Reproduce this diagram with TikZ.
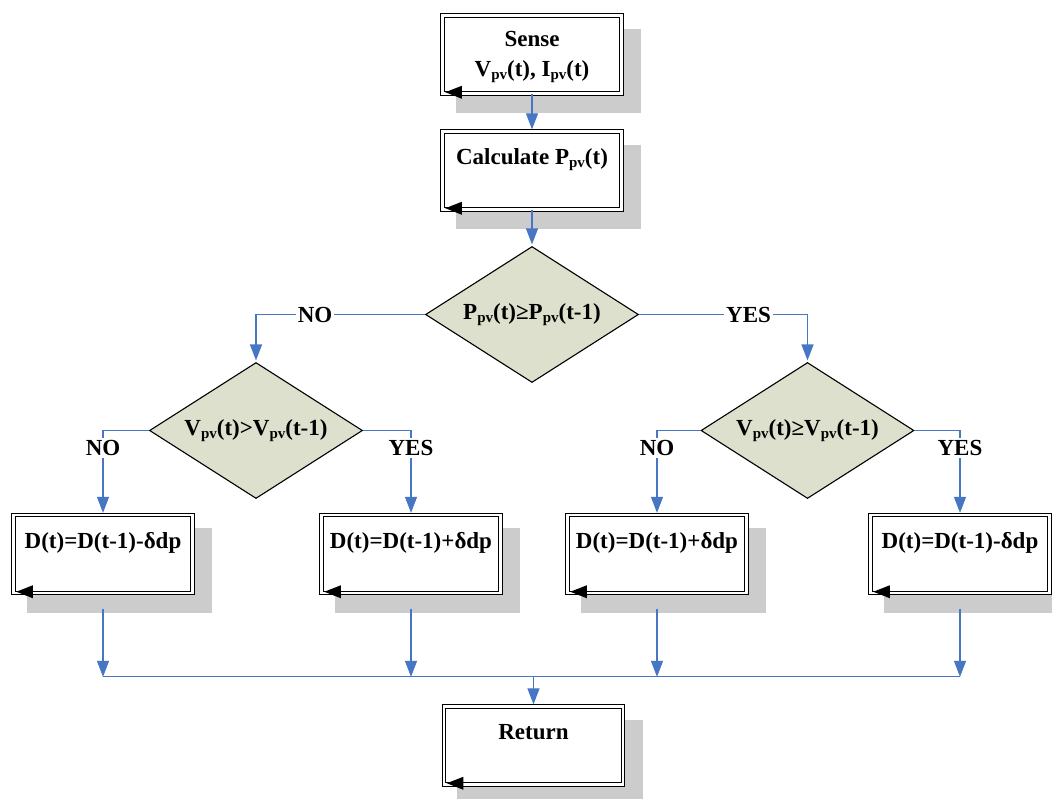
\documentclass[tikz,border=0pt]{standalone}
\usepackage{fontspec}
\setmainfont{Liberation Serif}
\usetikzlibrary{arrows.meta,shapes.geometric,calc,backgrounds}
\definecolor{lineblue}{RGB}{70,118,196}
\definecolor{shadowgray}{RGB}{204,204,204}
\definecolor{diafill}{RGB}{221,224,204}
\newcommand\pvs{\raisebox{-0.28ex}{\fontsize{15}{15}\selectfont pv}}
\begin{document}
\begin{tikzpicture}[x=1pt,y=-1pt,
  every node/.style={font=\bfseries\fontsize{23}{28}\selectfont},
  procbox/.style={rectangle, draw=black, line width=1.3pt, double=white,
    double distance=2.2pt, fill=white, minimum width=179pt,
    minimum height=78pt, inner sep=0pt},
  decision/.style={diamond, draw=black, line width=1.1pt, fill=diafill,
    shape aspect=1.57, minimum width=213pt, minimum height=136pt, inner sep=0pt},
  txt/.style={anchor=base, inner sep=0pt},
  lbl/.style={fill=white, inner sep=2pt},
  conn/.style={draw=lineblue, line width=1.2pt,
    -{Triangle[length=16pt,width=12pt]}, shorten >=1.5pt},
  plain/.style={draw=lineblue, line width=1.2pt},
  shadowbox/.style={fill=shadowgray},
  cornertip/.style={fill=black}
]
\useasboundingbox (0,0) rectangle (1052,798);

% process boxes
\node[procbox] (sense) at (532,54.5) {};
\node[procbox] (calc)  at (532,170.5) {};
\node[procbox] (boxA)  at (103,554) {};
\node[procbox] (boxB)  at (411,554) {};
\node[procbox] (boxC)  at (657,554) {};
\node[procbox] (boxD)  at (960,554) {};
\node[procbox] (ret)   at (533.5,745.5) {};

% shadows
\begin{scope}[on background layer]
\foreach \b in {sense,calc,boxA,boxB,boxC,boxD,ret}{
  \fill[shadowbox] ($(\b.north west)+(14,14)$) rectangle ($(\b.south east)+(19,19)$);
}
\end{scope}

% small black arrowheads inside boxes
\foreach \b in {sense,calc,boxA,boxB,boxC,boxD,ret}{
  \fill[cornertip] ($(\b.south west)+(3.5,-1.9)$) -- ($(\b.south west)+(20,-8.4)$)
     -- ($(\b.south west)+(20,4.6)$) -- cycle;
}

% texts in boxes
\node[txt] (sense-t1) at ($(sense.north)+(0,32)$) {Sense};
\node[txt] (sense-t2) at ($(sense.north)+(0,62)$) {V\pvs(t), I\pvs(t)};
\node[txt] (calc-t) at ($(calc.north)+(0,34)$) {Calculate P\pvs(t)};
\node[txt] (boxA-t) at ($(boxA.north)+(0,34)$) {D(t)=D(t-1)-δdp};
\node[txt] (boxB-t) at ($(boxB.north)+(0,34)$) {D(t)=D(t-1)+δdp};
\node[txt] (boxC-t) at ($(boxC.north)+(0,34)$) {D(t)=D(t-1)+δdp};
\node[txt] (boxD-t) at ($(boxD.north)+(0,34)$) {D(t)=D(t-1)-δdp};
\node[txt] (ret-t) at ($(ret.north)+(0,34)$) {Return};

% decisions
\node[decision] (d1) at (532,314.5) {P\pvs(t)≥P\pvs(t-1)};
\node[decision] (d2) at (256,430.5) {V\pvs(t)>V\pvs(t-1)};
\node[decision] (d3) at (807.5,430.5) {V\pvs(t)≥V\pvs(t-1)};

% connectors
\draw[conn] (sense.south) -- (calc.north);
\draw[conn] (calc.south) -- (d1.north);

\coordinate (c1) at (d2.north |- d1.west);
\coordinate (c2) at (d3.north |- d1.west);
\draw[conn] (d1.west) -- node[lbl,pos=0.65]{NO} (c1) -- (d2.north);
\draw[conn] (d1.east) -- node[lbl,pos=0.65]{YES} (c2) -- (d3.north);

\coordinate (c3) at (boxA.north |- d2.west);
\coordinate (c4) at (boxB.north |- d2.east);
\coordinate (c5) at (boxC.north |- d3.west);
\coordinate (c6) at (boxD.north |- d3.east);
\draw[conn] (d2.west) -- (c3) -- node[lbl,pos=0.21]{NO} (boxA.north);
\draw[conn] (d2.east) -- (c4) -- node[lbl,pos=0.21]{YES} (boxB.north);
\draw[conn] (d3.west) -- (c5) -- node[lbl,pos=0.21]{NO} (boxC.north);
\draw[conn] (d3.east) -- (c6) -- node[lbl,pos=0.21]{YES} (boxD.north);

% bottom merging
\coordinate (join) at ($(ret.north)+(0,-29)$);
\coordinate (sA) at ($(boxA.south)+(0,15)$);
\coordinate (sB) at ($(boxB.south)+(0,15)$);
\coordinate (sC) at ($(boxC.south)+(0,15)$);
\coordinate (sD) at ($(boxD.south)+(0,15)$);
\draw[plain] (boxA.south |- join) -- (boxD.south |- join);
\draw[conn,shorten >=0pt] (sA) -- (sA |- join);
\draw[conn,shorten >=0pt] (sB) -- (sB |- join);
\draw[conn,shorten >=0pt] (sC) -- (sC |- join);
\draw[conn,shorten >=0pt] (sD) -- (sD |- join);
\draw[conn] (join) -- (ret.north);
\end{tikzpicture}
\end{document}
